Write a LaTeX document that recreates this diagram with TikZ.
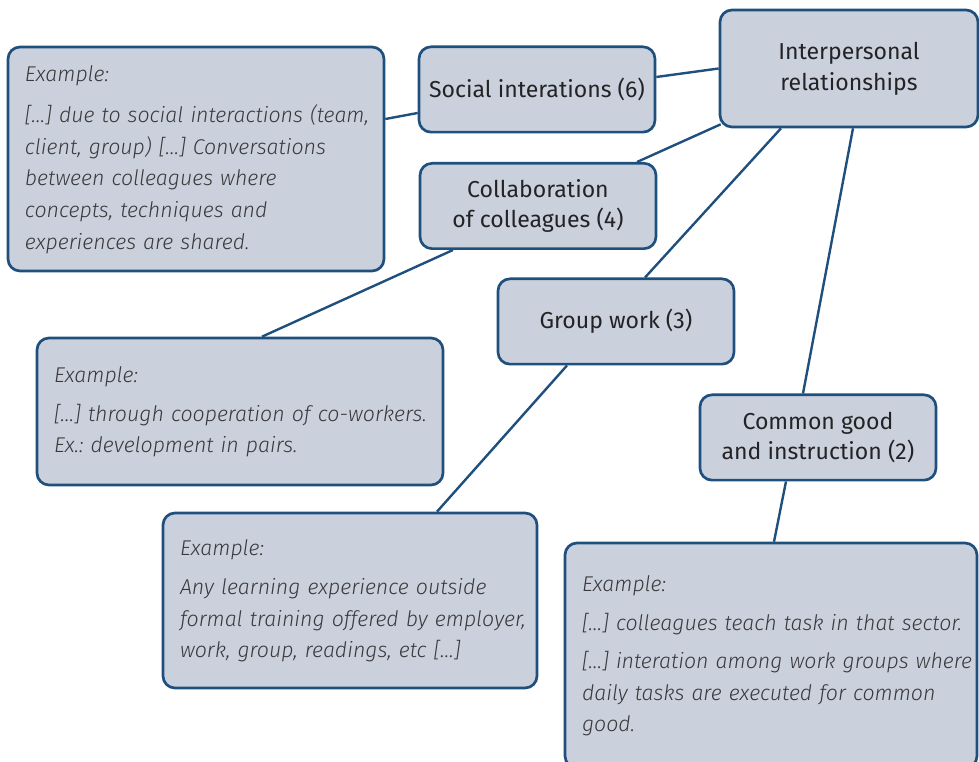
\documentclass[tikz,border=0pt]{standalone}
\usepackage{fontspec}
\setmainfont{Fira Sans}[ItalicFont={Fira Sans Light Italic}]
\usetikzlibrary{calc}
\definecolor{boxfill}{RGB}{203,209,220}
\definecolor{boxline}{RGB}{31,80,125}
\definecolor{txt}{RGB}{35,35,38}
\frenchspacing

\begin{document}
\begin{tikzpicture}[x=0.75pt, y=-0.75pt,
    topic/.style={draw=boxline, fill=boxfill, line width=2pt, rounded corners=9pt,
      align=center, text=txt, font=\fontsize{17.3}{23}\selectfont,
      minimum width=177pt, minimum height=64pt, inner sep=0pt},
    example/.style={topic, align=left, text=txt!90, inner xsep=12.75pt,
      font=\fontsize{16}{23.8}\selectfont\itshape},
    link/.style={draw=boxline, line width=1.8pt}]
  \useasboundingbox (0,0) rectangle (979,762);

  \node[topic, minimum width=193.5pt, minimum height=87.75pt] (ipr) at (849,68.5) {Interpersonal\\relationships};
  \node[topic] (soc) at (537,89.5) {Social interations (6)};
  \node[topic] (col) at (538,206) {Collaboration\\of colleagues (4)};
  \node[topic] (grp) at (616,321.5) {Group work (3)};
  \node[topic] (cmn) at (818,437.5) {Common good\\and instruction (2)};

  \node[example, text width=256.5pt, minimum height=168pt] (ex1) at (196,159)
    {\begin{tabular}{@{}l@{}}
     Example:\\[7pt]
     […] due to social interactions (team,\\ client, group) […] Conversations\\
     between colleagues where\\ concepts, techniques and\\ experiences are shared.
     \end{tabular}};
  \node[example, text width=279pt, minimum height=110.25pt] (ex2) at (240,411.5)
    {\begin{tabular}{@{}l@{}}
     Example:\\[5pt]
     […] through cooperation of co-workers.\\ Ex.: development in pairs.
     \end{tabular}};
  \node[example, text width=255pt, minimum height=131.25pt] (ex3) at (350,600.5)
    {\begin{tabular}{@{}l@{}}
     Example:\\[5pt]
     Any learning experience outside\\ formal training offered by employer,\\
     work, group, readings, etc […]
     \end{tabular}};
  \node[example, text width=283.5pt, minimum height=168.75pt] (ex4) at (771,655.5)
    {\begin{tabular}{@{}l@{}}
     Example:\\[5pt]
     […] colleagues teach task in that sector.\\[5pt]
     […] interation among work groups where\\ daily tasks are executed for common\\ good.
     \end{tabular}};

  \draw[link] ($(ex1.east)+(0,-40)$) -- ($(soc.west)+(0,23.5)$);
  \draw[link] ($(soc.east)+(0,-12.5)$) -- (ipr.west);
  \draw[link] ($(col.north)+(99,0)$) -- ($(ipr.south west)+(2,-4)$);
  \draw[link] ($(col.south)+(-85,0)$) -- ($(ex2.north)+(22,0)$);
  \draw[link] ($(grp.north)+(29,0)$) -- ($(ipr.south)+(-68,0)$);
  \draw[link] ($(grp.south)+(-49,0)$) -- ($(ex3.north)+(87,0)$);
  \draw[link] ($(ipr.south)+(4,0)$) -- ($(cmn.north)+(-15,0)$);
  \draw[link] ($(cmn.south)+(-32,0)$) -- ($(ex4.north)+(3,0)$);
\end{tikzpicture}
\end{document}
